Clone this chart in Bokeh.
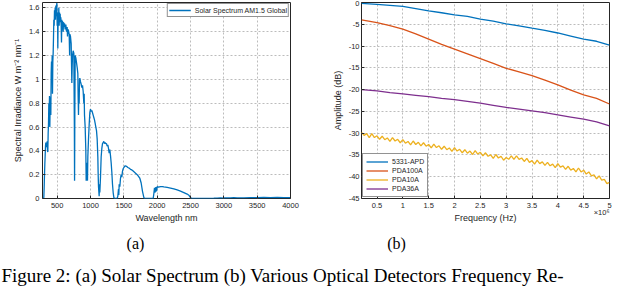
from bokeh.plotting import figure
from bokeh.layouts import column, row
from bokeh.models import (Range1d, FixedTicker, CustomJSTickFormatter, Legend,
                          LegendItem, Label)
from bokeh.embed import file_html
from bokeh.resources import INLINE

# ---------------- data: (a) solar spectrum AM1.5 Global ----------------
wavelength_nm = [
    280, 295, 300, 305, 310, 315, 320, 325, 330, 335, 340, 345, 350, 355, 360,
    365, 370, 375, 380, 385, 390, 395, 400, 405, 410, 415, 420, 425, 430, 435,
    440, 445, 450, 455, 460, 465, 470, 475, 480, 485, 490, 495, 500, 505, 510,
    515, 520, 525, 530, 535, 540, 545, 550, 555, 560, 565, 570, 575, 580, 590,
    595, 600, 610, 620, 630, 640, 650, 655, 660, 670, 680, 687, 690, 700, 710,
    720, 725, 730, 740, 750, 758, 761, 765, 770, 780, 790, 800, 810, 815, 820,
    825, 830, 835, 840, 850, 860, 870, 880, 890, 900, 905, 910, 920, 930, 935,
    940, 950, 955, 960, 970, 980, 990, 1000, 1010, 1020, 1030, 1040, 1050, 1060,
    1070, 1080, 1090, 1100, 1110, 1115, 1120, 1130, 1135, 1140, 1150, 1160,
    1170, 1180, 1190, 1200, 1210, 1220, 1230, 1240, 1250, 1260, 1270, 1280,
    1290, 1300, 1310, 1320, 1330, 1340, 1350, 1360, 1400, 1410, 1420, 1425,
    1430, 1440, 1450, 1460, 1470, 1480, 1490, 1500, 1520, 1540, 1560, 1580,
    1600, 1620, 1640, 1660, 1680, 1700, 1720, 1740, 1760, 1780, 1800, 1810,
    1940, 1950, 1960, 1970, 1980, 1990, 2000, 2020, 2050, 2080, 2100, 2150,
    2200, 2250, 2300, 2350, 2400, 2450, 2480, 2500, 2520, 2700, 2850, 2900,
    2950, 3000, 3100, 3150, 3200, 3300, 3400, 3500, 3600, 3700, 3800, 3900, 4000]
irradiance = [
    0.0, 0.0, 0.01, 0.09, 0.2, 0.29, 0.36, 0.44, 0.47, 0.43, 0.46, 0.44, 0.48, 0.4, 0.39,
    0.55, 0.62, 0.8, 0.7, 0.86, 0.6, 0.8, 0.85, 0.7, 1.05, 1.15, 1.05, 1.2, 0.88, 1.15,
    1.22, 1.35, 1.5, 1.45, 1.58, 1.52, 1.6, 1.5, 1.62, 1.53, 1.6, 1.64, 1.45, 1.56, 1.26,
    1.55, 1.48, 1.6, 1.45, 1.56, 1.5, 1.55, 1.48, 1.52, 1.45, 1.31, 1.5, 1.44, 1.49, 1.4,
    1.48, 1.44, 1.47, 1.42, 1.46, 1.4, 1.44, 1.36, 1.42, 1.41, 1.38, 1.2, 1.38, 1.36, 1.3,
    0.97, 1.1, 1.2, 1.24, 1.22, 0.6, 0.15, 0.7, 1.2, 1.18, 1.14, 1.1, 1.05, 0.85, 0.7,
    0.9, 0.8, 1.0, 1.01, 0.98, 0.96, 0.93, 0.95, 0.9, 0.8, 0.88, 0.7, 0.6, 0.4, 0.15,
    0.2, 0.3, 0.15, 0.35, 0.5, 0.62, 0.72, 0.75, 0.73, 0.74, 0.72, 0.7, 0.68, 0.66,
    0.63, 0.6, 0.57, 0.5, 0.35, 0.2, 0.1, 0.02, 0.12, 0.05, 0.18, 0.35,
    0.42, 0.46, 0.47, 0.48, 0.46, 0.47, 0.46, 0.46, 0.44, 0.45, 0.42, 0.38,
    0.41, 0.36, 0.3, 0.22, 0.12, 0.05, 0.01, 0.0, 0.0, 0.02, 0.08, 0.03,
    0.12, 0.1, 0.17, 0.2, 0.18, 0.23, 0.25, 0.26, 0.275, 0.27, 0.26, 0.255,
    0.245, 0.24, 0.23, 0.22, 0.21, 0.2, 0.185, 0.17, 0.13, 0.06, 0.01, 0.0,
    0.0, 0.04, 0.09, 0.05, 0.095, 0.06, 0.1, 0.095, 0.1, 0.1, 0.097, 0.093,
    0.088, 0.08, 0.072, 0.062, 0.05, 0.037, 0.025, 0.008, 0.0, 0.0, 0.002, 0.004,
    0.006, 0.004, 0.005, 0.008, 0.006, 0.005, 0.007, 0.008, 0.009, 0.008, 0.009, 0.008, 0.007]
a_xticks = [500, 1000, 1500, 2000, 2500, 3000, 3500, 4000]
a_yticks = [0, 0.2, 0.4, 0.6, 0.8, 1, 1.2, 1.4, 1.6]
a_series = "Solar Spectrum AM1.5 Global"

# ---------------- data: (b) detector frequency responses ----------------
freq_mhz = [0.2, 0.5, 0.75, 1.0, 1.25, 1.5, 1.75, 2.0, 2.25, 2.5, 2.75, 3.0,
            3.25, 3.5, 3.75, 4.0, 4.25, 4.5, 4.75, 5.0]
apd_5331 = [-0.2, -0.45, -0.65, -0.9, -1.4, -1.9, -2.35, -2.85, -3.2, -3.8, -4.3,
            -4.9, -5.35, -5.9, -6.4, -7.0, -7.7, -8.4, -8.9, -9.8]
pda100a = [-4.0, -4.6, -5.3, -6.1, -7.2, -8.4, -9.6, -10.7, -11.8, -12.9, -14.0,
           -15.1, -15.9, -16.8, -17.8, -18.9, -20.1, -21.2, -22.0, -23.3]
pda36a = [-20.0, -20.3, -20.7, -21.0, -21.3, -21.6, -22.0, -22.3, -22.7, -23.1,
          -23.6, -24.1, -24.5, -24.9, -25.3, -25.8, -26.3, -26.8, -27.4, -28.3]
freq10_mhz = [
    0.20, 0.25, 0.30, 0.35, 0.40, 0.45, 0.50, 0.55, 0.60, 0.65, 0.70, 0.75, 0.80,
    0.85, 0.90, 0.95, 1.00, 1.05, 1.10, 1.15, 1.20, 1.25, 1.30, 1.35, 1.40, 1.45,
    1.50, 1.55, 1.60, 1.65, 1.70, 1.75, 1.80, 1.85, 1.90, 1.95, 2.00, 2.05, 2.10,
    2.15, 2.20, 2.25, 2.30, 2.35, 2.40, 2.45, 2.50, 2.55, 2.60, 2.65, 2.70, 2.75,
    2.80, 2.85, 2.90, 2.95, 3.00, 3.05, 3.10, 3.15, 3.20, 3.25, 3.30, 3.35, 3.40,
    3.45, 3.50, 3.55, 3.60, 3.65, 3.70, 3.75, 3.80, 3.85, 3.90, 3.95, 4.00, 4.05,
    4.10, 4.15, 4.20, 4.25, 4.30, 4.35, 4.40, 4.45, 4.50, 4.55, 4.60, 4.65, 4.70,
    4.75, 4.80, 4.85, 4.90, 4.95, 5.00]
pda10a = [
    -29.8, -30.5, -30.1, -31.0, -30.1, -31.0, -30.6, -31.4, -30.7, -31.5, -31.1,
    -31.9, -31.0, -31.8, -31.4, -32.2, -31.5, -32.3, -31.9, -32.7, -31.8, -32.6,
    -32.1, -32.9, -32.2, -33.0, -32.6, -33.4, -32.5, -33.3, -32.9, -33.7, -33.0,
    -33.8, -33.4, -34.2, -33.3, -34.1, -33.7, -34.5, -33.8, -34.6, -34.1, -34.9,
    -34.0, -34.8, -34.4, -35.2, -34.5, -35.3, -35.0, -35.8, -34.9, -35.7, -35.3,
    -36.2, -35.6, -36.0, -35.2, -36.0, -35.2, -36.0, -35.7, -36.5, -35.8, -36.7,
    -36.3, -37.1, -36.2, -37.0, -36.6, -37.4, -36.7, -37.5, -37.1, -37.9, -37.0,
    -37.8, -37.5, -38.3, -37.6, -38.5, -38.1, -38.9, -38.0, -38.9, -38.5, -39.4,
    -38.9, -39.8, -39.6, -40.5, -39.8, -40.8, -40.6, -41.6, -41.3]
b_xticks = [0.5, 1, 1.5, 2, 2.5, 3, 3.5, 4, 4.5, 5]
b_yticks = [-45, -40, -35, -30, -25, -20, -15, -10, -5, 0]
b_names = ["5331-APD", "PDA100A", "PDA10A", "PDA36A"]
b_multiplier = "\u00d710\u2076"

# ---------------- styling helpers ----------------
SANS = "Liberation Sans"
DARK = "#262626"
C_BLUE, C_ORANGE, C_YELLOW, C_PURPLE = "#0072BD", "#D95319", "#EDB120", "#7E2F8E"


def style(p, xticks, yticks):
    p.outline_line_color = DARK
    p.outline_line_width = 1
    p.outline_line_alpha = 1
    p.background_fill_color = "white"
    p.border_fill_color = "white"
    p.xaxis.ticker = FixedTicker(ticks=xticks)
    p.yaxis.ticker = FixedTicker(ticks=yticks)
    for ax in (p.xaxis[0], p.yaxis[0]):
        ax.axis_line_color = None
        ax.major_tick_in = 3
        ax.major_tick_out = 0
        ax.major_tick_line_color = DARK
        ax.minor_tick_line_color = None
        ax.major_label_text_font = SANS
        ax.major_label_text_font_size = "7.5px"
        ax.major_label_text_color = DARK
        ax.axis_label_text_font = SANS
        ax.axis_label_text_font_size = "9px"
        ax.axis_label_text_font_style = "normal"
        ax.axis_label_text_color = DARK
        ax.formatter = CustomJSTickFormatter(code="return String(tick);")
    p.xaxis.major_label_standoff = 4
    p.yaxis.major_label_standoff = 3
    p.xaxis.axis_label_standoff = 2
    p.yaxis.axis_label_standoff = 3
    for g in (p.xgrid[0], p.ygrid[0]):
        g.grid_line_color = "#bcbcbc"
        g.grid_line_dash = "2 2"
        g.grid_line_width = 1


def style_legend(lg):
    lg.label_text_font = SANS
    lg.label_text_font_size = "7px"
    lg.label_text_color = DARK
    lg.border_line_color = DARK
    lg.border_line_width = 1
    lg.background_fill_color = "white"
    lg.background_fill_alpha = 1
    lg.glyph_width = 22
    lg.glyph_height = 9
    lg.label_height = 9
    lg.label_standoff = 4
    lg.spacing = 0
    lg.padding = 2
    lg.margin = 1


TOP_H = 234
BOTTOM_B = 36

# ---------------- panel (a) ----------------
pa = figure(width=320, height=TOP_H, x_range=Range1d(280, 4000),
            y_range=Range1d(0, 1.645), toolbar_location=None,
            output_backend="svg", min_border_left=42, min_border_right=30,
            min_border_top=2, min_border_bottom=BOTTOM_B)
style(pa, a_xticks, a_yticks)
pa.xaxis.axis_label = "Wavelength nm"
pa.yaxis.axis_label = "Spectral Irradiance W m\u207b\u00b2 nm\u207b\u00b9"
ra = pa.line(wavelength_nm, irradiance, line_color=C_BLUE, line_width=1.3)
lga = Legend(items=[LegendItem(label=a_series, renderers=[ra])],
             location="top_right")
style_legend(lga)
lga.padding = 1
lga.glyph_height = 10
lga.label_height = 10
pa.add_layout(lga)

# ---------------- panel (b) ----------------
pb = figure(width=320, height=TOP_H, x_range=Range1d(0.2, 5.0),
            y_range=Range1d(-45, 0), toolbar_location=None,
            output_backend="svg", min_border_left=41, min_border_right=31,
            min_border_top=2, min_border_bottom=BOTTOM_B)
style(pb, b_xticks, b_yticks)
pb.yaxis.major_label_standoff = 2
pb.xaxis.axis_label = "Frequency (Hz)"
pb.yaxis.axis_label = "Amplitude (dB)"
r1 = pb.line(freq_mhz, apd_5331, line_color=C_BLUE, line_width=1.3)
r2 = pb.line(freq_mhz, pda100a, line_color=C_ORANGE, line_width=1.3)
r3 = pb.line(freq10_mhz, pda10a, line_color=C_YELLOW, line_width=1.3)
r4 = pb.line(freq_mhz, pda36a, line_color=C_PURPLE, line_width=1.3)
lgb = Legend(items=[LegendItem(label=n, renderers=[r])
                    for n, r in zip(b_names, [r1, r2, r3, r4])],
             location="bottom_left")
style_legend(lgb)
lgb.padding = 3
pb.add_layout(lgb)

# axis multiplier, placed in the lower side panel so it is not clipped to the frame
pb.add_layout(Label(x=5.0, y=-45, text=b_multiplier, text_align="right",
                    text_baseline="middle", y_offset=-14, text_font=SANS,
                    text_font_size="7.5px", text_color=DARK), "below")

# ---------------- captions ----------------
CAP_H = 286 - TOP_H
cap = figure(width=640, height=CAP_H, x_range=Range1d(0, 640),
             y_range=Range1d(0, CAP_H), toolbar_location=None,
             output_backend="svg", min_border=0,
             x_axis_type=None, y_axis_type=None)
cap.outline_line_color = None
cap.background_fill_color = "white"
cap.border_fill_color = "white"
for txt, xc in (("(a)", 135), ("(b)", 396)):
    cap.add_layout(Label(x=xc, y=CAP_H - 9, text=txt, text_align="center",
                         text_baseline="middle", text_font="Liberation Serif",
                         text_font_size="16px", text_color="black"))
cap.add_layout(Label(x=1, y=CAP_H - 30,
                     text="Figure 2: (a) Solar Spectrum (b) Various Optical Detectors Frequency Re-",
                     text_align="left", text_baseline="top",
                     text_font="Liberation Serif", text_font_size="19px",
                     text_color="black"))

layout = column(row(pa, pb), cap)
open("out.html", "w").write(file_html(layout, INLINE))
